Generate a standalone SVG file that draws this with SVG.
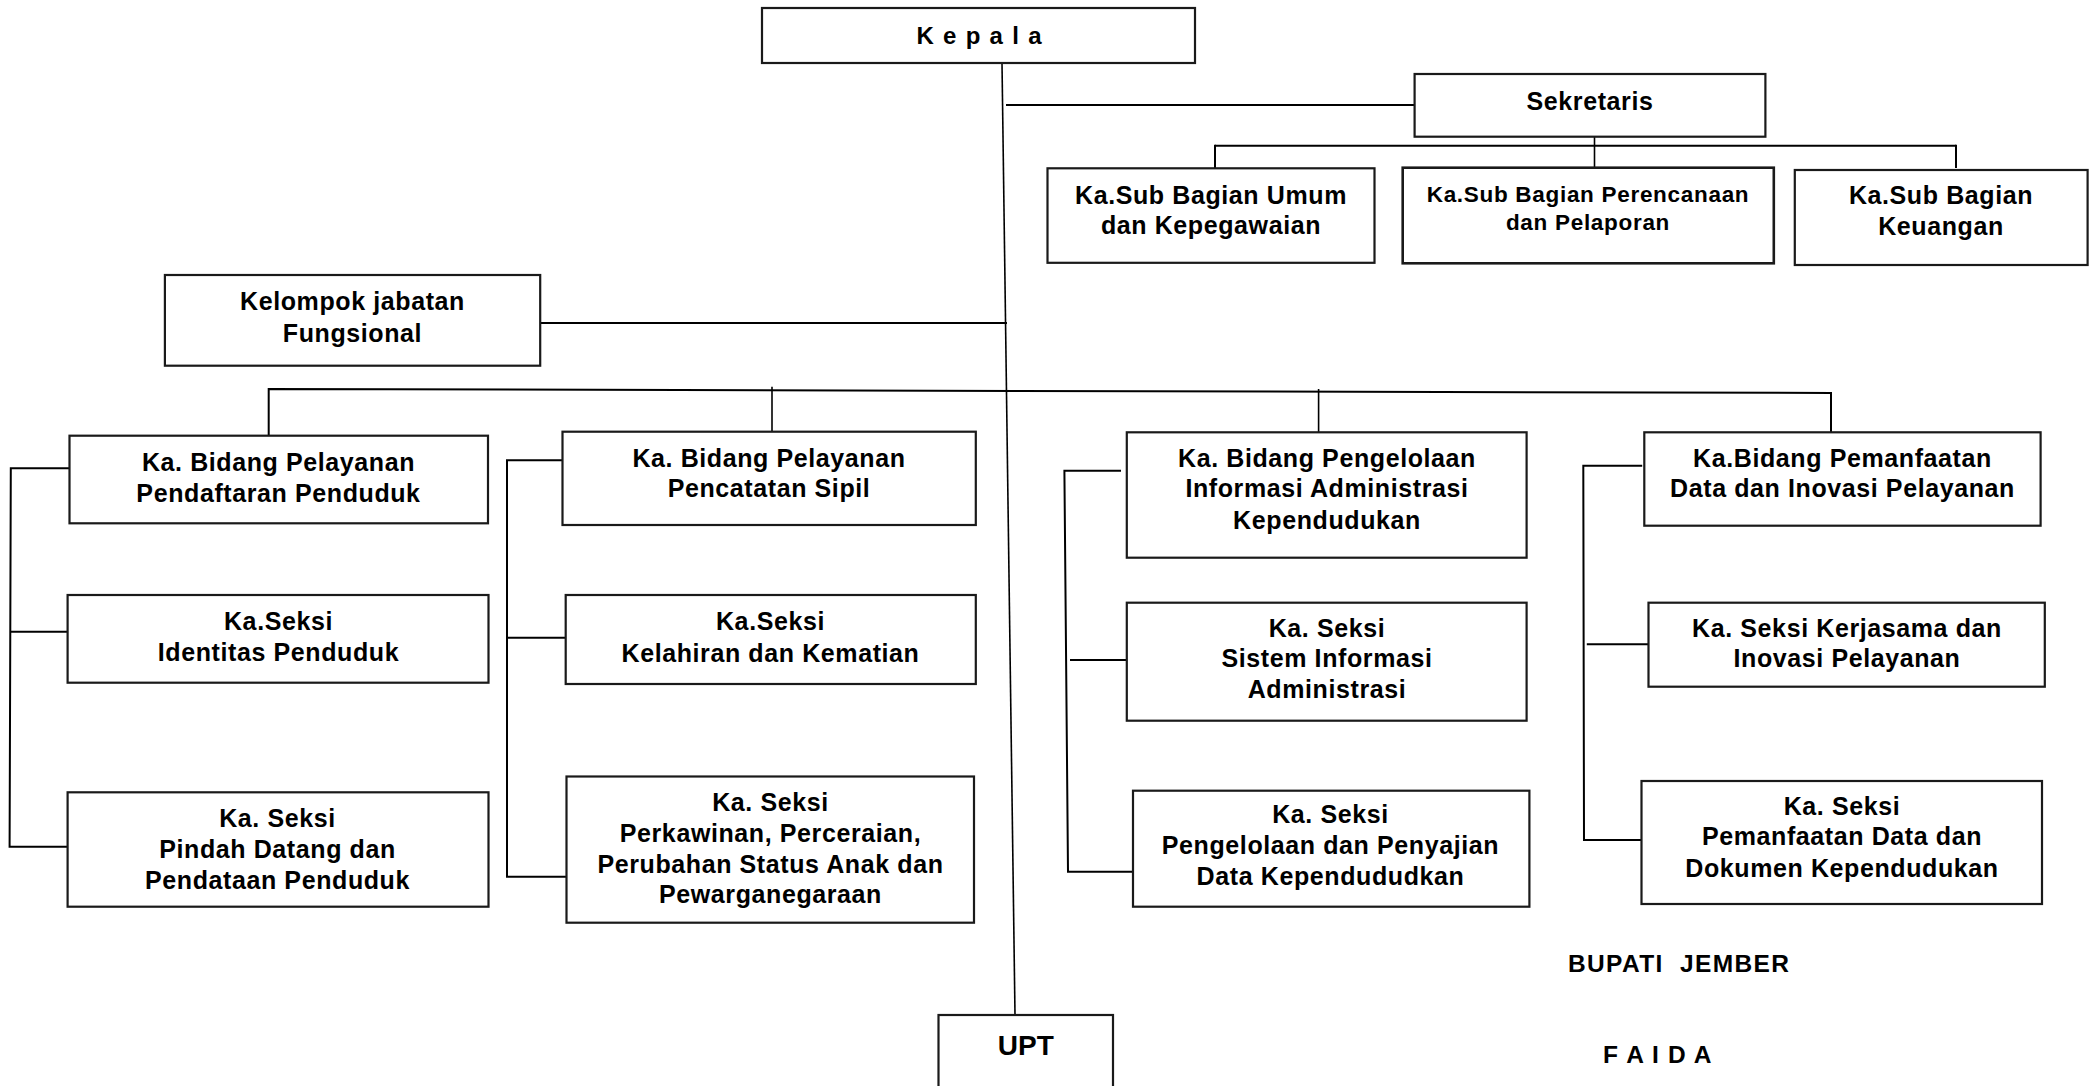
<svg xmlns="http://www.w3.org/2000/svg" width="2098" height="1086" viewBox="0 0 2098 1086">
<style>
.bg{fill:#fff}
.box{fill:#fff;stroke:#1a1a1a;stroke-width:2.2}
.t{font-family:"Liberation Sans",Arial,sans-serif;font-weight:bold;font-size:25px;letter-spacing:0.6px;text-anchor:middle;fill:#000}
.s{font-size:22.5px;letter-spacing:0.7px}
.ln{stroke:#000;stroke-width:2;fill:none}
.thin{stroke:#000;stroke-width:1.6;fill:none}
.free{font-family:"Liberation Sans",Arial,sans-serif;font-weight:bold;font-size:24.5px;fill:#000}
</style>
<rect class="bg" x="0" y="0" width="2098" height="1086"/>

<g id="connectors">
  <line class="thin" x1="1002" y1="63" x2="1015" y2="1015"/>
  <line class="ln" x1="1006" y1="105" x2="1414.6" y2="105"/>
  <line class="ln" x1="540.2" y1="323" x2="1007" y2="323"/>
  <line class="ln" x1="1215" y1="145.7" x2="1956" y2="145.7"/>
  <line class="ln" x1="1215" y1="144.7" x2="1215" y2="168"/>
  <line class="ln" x1="1956" y1="144.7" x2="1956" y2="168"/>
  <line class="thin" x1="1594.5" y1="136.7" x2="1594.5" y2="171.7"/>
  <path class="ln" d="M268.7 436 V389 L1831 393 V432"/>
  <line class="thin" x1="772" y1="386.7" x2="772" y2="433"/>
  <line class="thin" x1="1318.6" y1="389" x2="1318.6" y2="432.3"/>
  <path class="ln" d="M69 468.3 H10.8 L9.6 846.7 H67.6"/>
  <line class="ln" x1="10.5" y1="631.7" x2="67.6" y2="631.7"/>
  <path class="ln" d="M563.5 460.3 H507 V876.7 H566.5"/>
  <line class="ln" x1="507" y1="637.7" x2="565.7" y2="637.7"/>
  <path class="ln" d="M1121 470.7 H1064.4 L1068 871.7 H1133"/>
  <line class="ln" x1="1070" y1="660" x2="1126.8" y2="660"/>
  <path class="ln" d="M1642.2 465.7 H1583.3 L1584 840 H1641.5"/>
  <line class="ln" x1="1586.8" y1="644.3" x2="1648.5" y2="644.3"/>
</g>

<g id="kepala">
  <rect class="box" x="762" y="8" width="433" height="55"/>
  <text class="t" x="979" y="44" style="font-size:24px;letter-spacing:0" textLength="125" lengthAdjust="spacing">K e p a l a</text>
</g>
<g id="sekretaris">
  <rect class="box" x="1414.6" y="74" width="350.8" height="62.7"/>
  <text class="t" x="1590" y="110">Sekretaris</text>
</g>
<g id="subbag-umum">
  <rect class="box" x="1047.5" y="168.3" width="327" height="94.5"/>
  <text class="t" x="1211" y="204">Ka.Sub Bagian Umum</text>
  <text class="t" x="1211" y="234">dan Kepegawaian</text>
</g>
<g id="subbag-perencanaan">
  <rect class="box" x="1402.7" y="167.7" width="371.1" height="95.6" style="stroke-width:2.6"/>
  <text class="t s" x="1588" y="201.7">Ka.Sub Bagian Perencanaan</text>
  <text class="t s" x="1588" y="230">dan Pelaporan</text>
</g>
<g id="subbag-keuangan">
  <rect class="box" x="1794.8" y="170" width="292.8" height="95"/>
  <text class="t" x="1941" y="204">Ka.Sub Bagian</text>
  <text class="t" x="1941" y="235">Keuangan</text>
</g>
<g id="fungsional">
  <rect class="box" x="164.9" y="275" width="375.3" height="90.7"/>
  <text class="t" x="352.5" y="310">Kelompok jabatan</text>
  <text class="t" x="352.5" y="341.7">Fungsional</text>
</g>

<g id="bidang-pendaftaran">
  <rect class="box" x="69.5" y="435.7" width="418.5" height="87.6"/>
  <text class="t" x="278.5" y="470.7">Ka. Bidang Pelayanan</text>
  <text class="t" x="278.5" y="501.7">Pendaftaran Penduduk</text>
</g>
<g id="seksi-identitas">
  <rect class="box" x="67.6" y="595" width="420.9" height="87.7"/>
  <text class="t" x="278.5" y="630">Ka.Seksi</text>
  <text class="t" x="278.5" y="660.7">Identitas Penduduk</text>
</g>
<g id="seksi-pindah">
  <rect class="box" x="67.6" y="792.3" width="420.9" height="114.4"/>
  <text class="t" x="277.5" y="826.7">Ka. Seksi</text>
  <text class="t" x="277.5" y="858.3">Pindah Datang dan</text>
  <text class="t" x="277.5" y="889.3">Pendataan Penduduk</text>
</g>

<g id="bidang-pencatatan">
  <rect class="box" x="562.5" y="431.7" width="413.3" height="93.3"/>
  <text class="t" x="769" y="466.7">Ka. Bidang Pelayanan</text>
  <text class="t" x="769" y="496.7">Pencatatan Sipil</text>
</g>
<g id="seksi-kelahiran">
  <rect class="box" x="565.7" y="595" width="410.1" height="89"/>
  <text class="t" x="770.5" y="630">Ka.Seksi</text>
  <text class="t" x="770.5" y="661.7">Kelahiran dan Kematian</text>
</g>
<g id="seksi-perkawinan">
  <rect class="box" x="566.5" y="776.5" width="407.5" height="146.2"/>
  <text class="t" x="770.5" y="810.7">Ka. Seksi</text>
  <text class="t" x="770.5" y="841.7">Perkawinan, Perceraian,</text>
  <text class="t" x="770.5" y="872.7">Perubahan Status Anak dan</text>
  <text class="t" x="770.5" y="903.3">Pewarganegaraan</text>
</g>

<g id="bidang-pengelolaan">
  <rect class="box" x="1126.8" y="432.3" width="399.8" height="125.4"/>
  <text class="t" x="1327" y="467.3">Ka. Bidang Pengelolaan</text>
  <text class="t" x="1327" y="497.3">Informasi Administrasi</text>
  <text class="t" x="1327" y="529">Kependudukan</text>
</g>
<g id="seksi-sistem">
  <rect class="box" x="1126.8" y="602.7" width="399.8" height="118"/>
  <text class="t" x="1327" y="636.7">Ka. Seksi</text>
  <text class="t" x="1327" y="667.3">Sistem Informasi</text>
  <text class="t" x="1327" y="698.3">Administrasi</text>
</g>
<g id="seksi-penyajian">
  <rect class="box" x="1133" y="790.7" width="396.4" height="116"/>
  <text class="t" x="1330.5" y="823.3">Ka. Seksi</text>
  <text class="t" x="1330.5" y="854">Pengelolaan dan Penyajian</text>
  <text class="t" x="1330.5" y="885">Data Kependududkan</text>
</g>

<g id="bidang-pemanfaatan">
  <rect class="box" x="1644.3" y="432.3" width="396.3" height="93.4"/>
  <text class="t" x="1842.5" y="467.3">Ka.Bidang Pemanfaatan</text>
  <text class="t" x="1842.5" y="497.3">Data dan Inovasi Pelayanan</text>
</g>
<g id="seksi-kerjasama">
  <rect class="box" x="1648.5" y="602.7" width="396.3" height="84"/>
  <text class="t" x="1847" y="636.7">Ka. Seksi Kerjasama dan</text>
  <text class="t" x="1847" y="667.3">Inovasi Pelayanan</text>
</g>
<g id="seksi-dokumen">
  <rect class="box" x="1641.5" y="781" width="400.5" height="123"/>
  <text class="t" x="1842" y="815">Ka. Seksi</text>
  <text class="t" x="1842" y="845">Pemanfaatan Data dan</text>
  <text class="t" x="1842" y="876.7">Dokumen Kependudukan</text>
</g>

<g id="upt">
  <rect class="box" x="938.5" y="1015" width="174.5" height="90"/>
  <text class="t" x="1025.8" y="1055" style="font-size:28px;letter-spacing:0">UPT</text>
</g>

<text class="free" x="1568" y="972" textLength="221" lengthAdjust="spacing" xml:space="preserve">BUPATI  JEMBER</text>
<text class="free" x="1603" y="1063" textLength="108.5" lengthAdjust="spacing">F A I D A</text>
</svg>
